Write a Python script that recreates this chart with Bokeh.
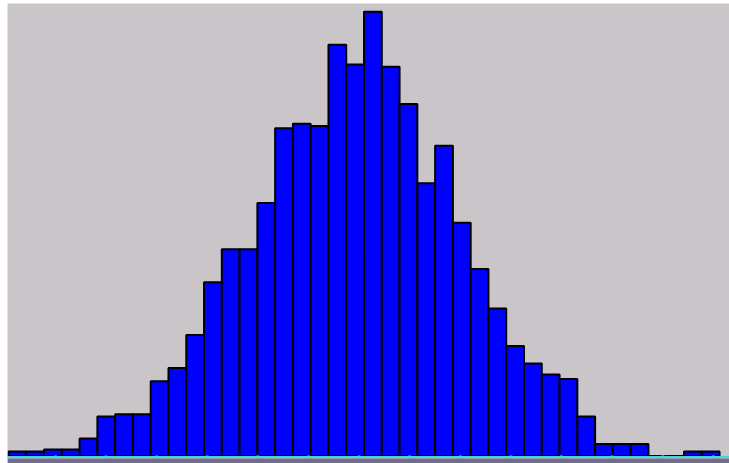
from bokeh.plotting import figure
from bokeh.models import Range1d, Span, ColumnDataSource, BoxAnnotation
from bokeh.embed import file_html
from bokeh.resources import INLINE

# Histogram data (estimated counts per bin)
bin_index = list(range(40))
counts = [2, 2, 3, 3, 8, 18, 19, 19, 34, 40,
          55, 79, 94, 94, 115, 149, 151, 150, 187, 178,
          202, 177, 160, 124, 141, 106, 85, 67, 50, 42,
          37, 35, 18, 5.5, 5.5, 5.5, 0, 0, 2, 2]
# axis tick positions (in bin units)
tick_start = 2.64
tick_step = 2.847
tick_count = 14

left = [i for i in bin_index]
right = [i + 1 for i in bin_index]
src = ColumnDataSource(dict(left=left, right=right, top=counts, bottom=[0] * len(counts)))

BG = "#C9C5C9"
p = figure(width=729, height=463, x_range=Range1d(-0.056, 40.56), y_range=Range1d(-3.41, 205.7),
           output_backend="svg", toolbar_location=None,
           min_border_left=7, min_border_right=0, min_border_top=3, min_border_bottom=0,
           background_fill_color=BG, border_fill_color="white")
p.xaxis.visible = False
p.yaxis.visible = False
p.grid.visible = False
p.outline_line_color = None

p.quad(left="left", right="right", top="top", bottom="bottom", source=src,
       fill_color="#0000FF", line_color="#000000", line_width=2)

p.add_layout(BoxAnnotation(top=-1.14, fill_color="#6E6E8C", fill_alpha=1.0, line_color=None))
p.add_layout(Span(location=-0.45, dimension="width", line_color="#3FD9DD", line_width=2))
ticks = [tick_start + k * tick_step for k in range(tick_count)]
p.scatter(x=ticks, y=[-0.45] * len(ticks), marker="square", size=3,
          fill_color="#00FFFF", line_color=None)

open("out.html", "w").write(file_html(p, INLINE))
